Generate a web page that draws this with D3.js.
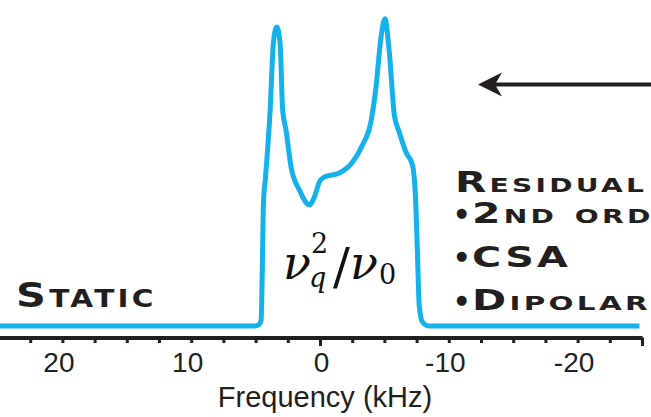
<!DOCTYPE html>
<html>
<head>
<meta charset="utf-8">
<script src="https://cdn.jsdelivr.net/npm/d3@7"></script>
<style>
  body { margin: 0; background: #fff; }
  svg { display: block; }
</style>
</head>
<body>
<svg id="chart" width="651" height="417"></svg>
<script>
// *** Data ***

// static line shape: frequency (kHz) and intensity (normalised to the taller horn)
var frequency = [25, 5.09, 4.78, 4.57, 4.49, 4.39, 4.23, 3.87, 3.62, 3.36, 3.10, 2.90, 2.64, 2.25,
                 1.60, 0.83, 0.44, 0.05, -0.33, -1.50, -2.53, -3.30, -3.95, -4.34, -4.73, -5.04,
                 -5.38, -5.77, -6.15, -6.67, -7.18, -7.44, -7.57, -7.70, -7.95, -8.47, -24.8];
var intensity = [0, 0, 0.003, 0.019, 0.159, 0.398, 0.482, 0.699, 0.916, 0.968, 0.916, 0.699, 0.634, 0.515,
                 0.440, 0.392, 0.417, 0.466, 0.482, 0.495, 0.531, 0.586, 0.660, 0.770, 0.932, 0.994,
                 0.887, 0.683, 0.628, 0.563, 0.521, 0.392, 0.230, 0.068, 0.013, 0, 0];

var minorTicks = [22.5, 20, 17.5, 15, 12.5, 10, 7.5, 5, 2.5, -2.5, -5, -7.5, -10, -12.5, -15, -17.5, -20, -22.5];
var majorTicks = [0, -25];
var tickLabels = [20, 10, 0, -10, -20];

var residualLines = ["2nd order", "CSA", "Dipolar"];

// *** Chart ***
var ink = "#231f20";
var blue = "#14b1ea";
var capsFont = "'DejaVu Sans', sans-serif";

var svg = d3.select("#chart");

var x = d3.scaleLinear().domain([25, -25]).range([-2, 642]);
var y = d3.scaleLinear().domain([0, 1]).range([326, 17]);
var axisY = 337.5;

// ticks first, then the thick axis line over them
var minorG = svg.append("g")
    .attr("transform", "translate(0," + axisY + ")")
    .call(d3.axisBottom(x).tickValues(minorTicks).tickSize(5.5).tickSizeOuter(0).tickFormat(""));
minorG.select(".domain").attr("stroke", ink).attr("stroke-width", 4);

var majorG = svg.append("g")
    .attr("transform", "translate(0," + axisY + ")")
    .call(d3.axisBottom(x).tickValues(majorTicks).tickSize(8.5).tickSizeOuter(0).tickFormat(""));
majorG.select(".domain").remove();

svg.selectAll(".tick line").attr("stroke", ink).attr("stroke-width", 3);

var labelG = svg.append("g")
    .attr("transform", "translate(0," + axisY + ")")
    .call(d3.axisBottom(x).tickValues(tickLabels).tickSize(0).tickFormat(d => String(d)));
labelG.select(".domain").remove();
labelG.selectAll("text")
    .attr("y", 34.2)
    .attr("dy", null)
    .attr("dx", d => d === 0 ? 1 : -4)
    .attr("fill", ink)
    .style("font-family", "'Liberation Sans', Arial, sans-serif")
    .style("font-size", "28px");

svg.append("text")
    .attr("x", 325)
    .attr("y", 407)
    .attr("text-anchor", "middle")
    .attr("fill", ink)
    .style("font-family", "'Liberation Sans', Arial, sans-serif")
    .style("font-size", "29px")
    .text("Frequency (kHz)");

// spectrum
var points = frequency.map((f, i) => [f, intensity[i]]);
var lineMaker = d3.line()
    .x(d => x(d[0]))
    .y(d => y(d[1]))
    .curve(d3.curveMonotoneX);

svg.append("path")
    .attr("d", lineMaker(points))
    .attr("fill", "none")
    .attr("stroke", blue)
    .attr("stroke-width", 5)
    .attr("stroke-linejoin", "round");

// *** Annotations ***

// width-fitted small caps text (Copperplate-like look)
function fit_text(str, xPos, yPos, size, target, visibleChars) {
    var t = svg.append("text")
        .attr("x", 0)
        .attr("y", 0)
        .attr("fill", ink)
        .style("font-family", capsFont)
        .style("font-weight", "bold")
        .style("font-variant", "small-caps")
        .style("letter-spacing", "0.08em")
        .style("font-size", size + "px")
        .text(str);
    var node = t.node();
    var w = visibleChars ? node.getSubStringLength(0, visibleChars) : node.getComputedTextLength();
    t.attr("transform", "translate(" + xPos + "," + yPos + ") scale(" + (target / w) + ",1)");
    return t;
}

fit_text("Static", 16, 306.7, 34, 140);
fit_text("Residual", 455, 191.7, 27.5, 192);

var lineBaselines = [223.3, 266.7, 310];
var lineWidths = [182, 99, 175];
residualLines.forEach(function (s, i) {
    // bullet: a small black circle glyph sitting at mid cap height
    svg.append("text")
        .attr("x", 456)
        .attr("y", lineBaselines[i] - 6.5)
        .attr("fill", ink)
        .style("font-family", capsFont)
        .style("font-size", "13px")
        .text("\u25cf");
    fit_text(s, 472, lineBaselines[i], 27.5, lineWidths[i], i === 0 ? 7 : null);
});

// arrow
svg.append("line")
    .attr("x1", 651).attr("x2", 490)
    .attr("y1", 84.5).attr("y2", 84.5)
    .attr("stroke", ink)
    .attr("stroke-width", 4);
svg.append("path")
    .attr("d", "M478,84.5 L502,72.5 L495,84.5 L502,96.5 Z")
    .attr("fill", ink);

// nu_q^2 / nu_0
var mathFont = "'DejaVu Serif', 'Liberation Serif', serif";
function math_text(str, xPos, yPos, size, italic) {
    svg.append("text")
        .attr("x", xPos)
        .attr("y", yPos)
        .attr("fill", "#111")
        .style("font-family", mathFont)
        .style("font-style", italic ? "italic" : "normal")
        .style("font-size", size + "px")
        .text(str);
}
math_text("\u03bd", 283, 279, 46, true);
math_text("2", 311, 253, 27, false);
math_text("q", 309, 287, 27, true);
math_text("/", 333, 284, 50, false);
math_text("\u03bd", 350, 279, 46, true);
math_text("0", 379, 284, 27, false);
</script>
</body>
</html>
